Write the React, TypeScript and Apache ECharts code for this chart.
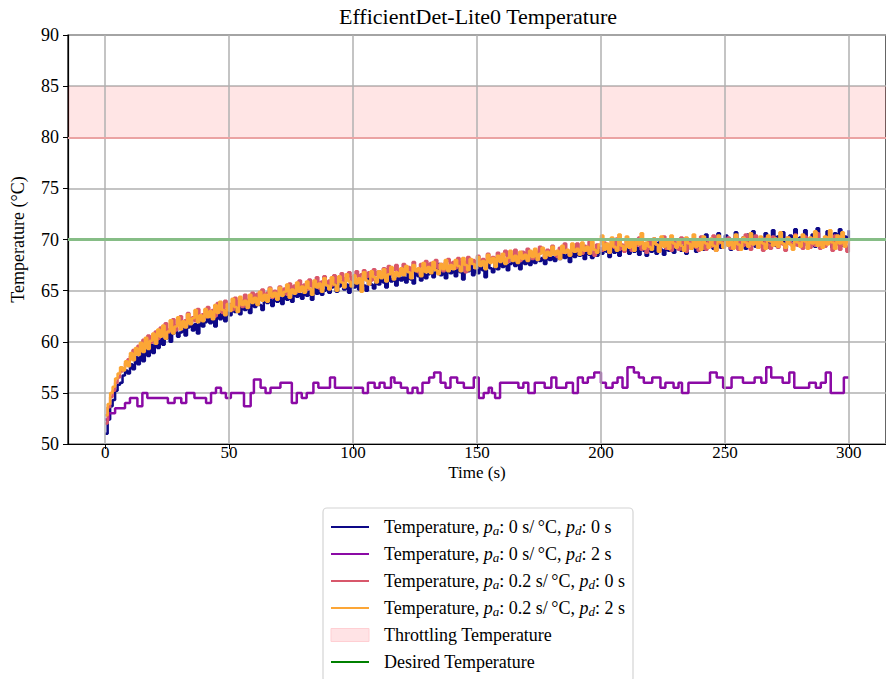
import React, { useEffect, useRef } from "react";
import * as echarts from "echarts";

// ---------- data ----------
const SAMPLE_STEP_S = 1; // sampling interval (s) of the three dense runs
const X_TICKS = [0, 50, 100, 150, 200, 250, 300];
const THROTTLE_LOW = 80;
const THROTTLE_HIGH = 85;
const DESIRED_TEMP = 70;

// pa: 0 s/°C, pd: 0 s  (one value per second, t = 0..300)
const TEMP_PA0_PD0 = [
  51.0, 52.4, 53.7, 54.3, 55.2, 55.8, 56.0, 56.7, 57.2, 56.9,
  57.8, 57.3, 58.5, 57.8, 58.9, 58.1, 59.3, 58.6, 59.7, 58.9,
  60.1, 59.4, 60.6, 59.7, 60.3, 61.0, 60.0, 60.8, 61.3, 60.5,
  60.9, 61.6, 60.6, 61.4, 62.0, 61.1, 61.7, 60.8, 62.2, 61.5,
  61.9, 62.6, 61.8, 62.3, 61.5, 62.8, 62.2, 62.9, 62.0, 63.2,
  62.6, 63.4, 62.9, 63.6, 62.7, 63.9, 63.1, 63.5, 62.8, 64.0,
  63.4, 64.2, 63.6, 63.1, 64.4, 63.8, 64.1, 63.5, 64.6, 63.9,
  64.3, 63.7, 64.8, 64.1, 64.5, 63.9, 65.0, 64.4, 64.7, 64.2,
  65.1, 64.5, 64.9, 64.1, 65.3, 64.7, 65.5, 64.6, 65.0, 65.6,
  64.8, 65.3, 65.7, 64.9, 65.4, 65.9, 65.1, 65.6, 64.8, 66.0,
  65.3, 65.8, 65.1, 66.1, 65.5, 65.0, 66.3, 65.6, 65.2, 66.0,
  65.6, 66.4, 65.8, 65.3, 66.6, 65.9, 66.2, 65.5, 66.7, 66.0,
  66.3, 65.8, 66.8, 66.1, 65.7, 66.9, 66.4, 66.0, 67.1, 66.2,
  66.6, 67.4, 66.3, 66.8, 67.6, 66.5, 67.0, 66.2, 67.2, 66.7,
  67.0, 66.4, 67.3, 66.8, 66.1, 67.4, 66.9, 67.6, 66.5, 67.1,
  66.7, 67.5, 67.0, 66.3, 67.7, 67.2, 66.8, 67.6, 67.1, 67.9,
  67.3, 67.9, 67.0, 67.6, 68.1, 67.4, 67.8, 67.1, 68.2, 67.6,
  68.0, 67.5, 68.3, 67.7, 68.4, 67.9, 68.2, 67.6, 68.5, 68.0,
  68.3, 67.9, 68.6, 68.1, 68.8, 68.2, 68.5, 67.8, 68.7, 68.3,
  68.9, 68.4, 68.7, 68.1, 69.0, 68.5, 68.2, 68.8, 68.4, 69.1,
  68.6, 69.2, 68.8, 68.3, 69.3, 68.7, 69.0, 68.4, 69.4, 68.9,
  69.1, 68.6, 69.5, 68.8, 69.2, 68.5, 69.6, 68.9, 68.4, 69.3,
  68.8, 69.4, 68.6, 69.7, 69.0, 68.5, 69.3, 68.9, 69.6, 68.7,
  69.2, 69.8, 68.9, 69.4, 68.6, 69.5, 69.1, 70.0, 68.8, 69.3,
  69.6, 69.0, 70.5, 69.3, 69.8, 69.1, 69.5, 70.6, 69.2, 69.7,
  70.4, 69.4, 69.0, 69.9, 70.7, 69.3, 69.6, 70.2, 69.1, 70.5,
  69.5, 70.8, 69.3, 69.8, 70.1, 69.4, 70.6, 69.2, 69.7, 70.9,
  69.4, 70.3, 69.8, 70.7, 69.2, 69.6, 70.4, 69.9, 71.0, 69.5,
  70.2, 69.7, 70.9, 69.4, 69.8, 70.5, 69.3, 71.1, 69.6, 70.0,
  69.5, 70.8, 69.9, 69.2, 70.6, 69.7, 71.0, 69.4, 70.3, 69.8,
  70.9,
];

// pa: 0 s/°C, pd: 2 s  — [time (s), temperature] at each level change
const TEMP_PA0_PD2_STEPS: [number, number][] = [
  [0, 52.4], [1.5, 53.0], [4, 53.5], [8, 54.0], [10, 54.5], [13, 53.7], [15, 55.0],
  [17, 54.5], [25.3, 54.0], [28, 54.5], [30.7, 54.0], [32.7, 55.0], [36, 54.5],
  [40.7, 54.0], [42.7, 55.0], [44.7, 55.5], [46.7, 55.0], [48.7, 54.5], [50.7, 55.0],
  [56, 53.7], [58.7, 55.0], [60, 56.3], [62.7, 55.5], [64.7, 55.0], [66.7, 55.5],
  [70.7, 56.0], [75.3, 54.0], [77.3, 55.0], [79.3, 54.5], [81.3, 55.0], [84, 56.0],
  [86, 55.5], [90.7, 56.5], [92.7, 55.5], [104, 55.0], [106, 56.0], [108.7, 55.5],
  [110.7, 56.0], [112.7, 55.5], [115.3, 56.5], [116.7, 56.0], [119.3, 55.5],
  [122, 55.0], [124, 55.5], [126, 55.0], [128, 56.0], [130.7, 56.5], [132.7, 57.0],
  [135.3, 56.0], [137.3, 55.5], [139.3, 56.5], [142, 56.0], [144.7, 55.5],
  [148.7, 56.5], [150.7, 54.5], [152.7, 55.0], [154.7, 55.5], [156, 55.0],
  [157.3, 54.5], [159.3, 56.0], [166.7, 55.5], [168.7, 56.0], [170.7, 55.0],
  [173.3, 56.0], [177.3, 55.5], [180, 56.5], [182, 55.5], [186, 56.0], [188.7, 55.0],
  [190.7, 56.5], [192.7, 56.0], [194.7, 56.5], [197.3, 57.0], [200, 56.0],
  [202, 55.5], [204.7, 56.0], [206.7, 56.5], [208.7, 55.5], [210.7, 57.5],
  [213.3, 57.0], [215.3, 56.5], [217.3, 56.0], [220.7, 56.5], [224, 55.5],
  [226, 56.0], [229.3, 55.5], [231.3, 56.0], [232.7, 55.0], [235.3, 56.0],
  [244, 57.0], [246.7, 56.5], [249.3, 55.5], [252.7, 56.5], [257.3, 56.0],
  [262, 56.5], [264.7, 56.0], [266.7, 57.5], [268.7, 56.5], [273.3, 56.0],
  [276, 57.0], [278, 55.5], [284, 56.0], [286.7, 55.5], [288.7, 56.0],
  [290.7, 57.0], [292.7, 55.0], [298, 56.5], [300, 56.5],
];

// pa: 0.2 s/°C, pd: 0 s
const TEMP_PA02_PD0 = [
  52.0, 53.6, 54.6, 55.2, 56.0, 56.5, 57.1, 57.4, 57.9, 58.3,
  58.6, 59.2, 58.8, 59.6, 59.1, 60.2, 59.5, 60.6, 59.9, 60.4,
  61.0, 60.3, 61.4, 60.7, 61.8, 60.9, 61.3, 62.2, 61.1, 61.7,
  62.5, 61.5, 62.1, 62.8, 61.8, 62.4, 62.0, 63.2, 62.3, 62.7,
  62.4, 63.4, 62.7, 63.1, 62.5, 63.8, 63.0, 62.8, 64.0, 63.3,
  63.7, 63.1, 64.3, 63.5, 64.1, 63.4, 64.6, 63.8, 64.2, 64.8,
  63.9, 64.7, 64.2, 65.1, 64.4, 64.8, 65.3, 64.3, 65.0, 64.6,
  65.4, 64.8, 65.2, 64.6, 65.7, 65.0, 65.5, 64.9, 66.0, 65.3,
  65.6, 65.1, 66.1, 65.4, 65.8, 66.3, 65.2, 65.9, 66.4, 65.6,
  66.0, 65.5, 66.5, 65.8, 66.2, 66.7, 65.7, 66.3, 66.8, 65.9,
  66.4, 66.9, 66.1, 66.6, 67.0, 66.3, 66.8, 66.0, 67.1, 66.5,
  66.9, 66.4, 67.2, 66.7, 67.4, 66.6, 67.0, 67.5, 66.8, 67.1,
  67.6, 66.9, 67.3, 66.7, 67.8, 67.1, 66.8, 67.6, 67.3, 67.9,
  67.0, 67.7, 67.3, 68.0, 67.2, 67.6, 66.9, 67.8, 68.1, 67.4,
  67.8, 67.2, 68.2, 67.5, 67.9, 66.8, 68.3, 67.6, 68.0, 67.4,
  68.4, 67.7, 68.1, 67.5, 68.6, 67.9, 68.3, 67.6, 68.7, 68.0,
  68.4, 68.9, 67.8, 68.6, 68.2, 69.0, 68.4, 67.9, 68.8, 68.3,
  69.1, 68.5, 68.1, 68.9, 68.4, 69.3, 68.7, 68.2, 69.0, 68.6,
  69.4, 68.8, 68.3, 69.2, 68.7, 69.6, 68.9, 68.5, 69.3, 68.8,
  69.6, 69.0, 68.6, 69.4, 68.9, 69.8, 69.1, 68.4, 69.5, 69.2,
  68.9, 69.7, 69.3, 68.7, 69.9, 69.2, 70.1, 69.0, 69.5, 68.8,
  70.0, 69.3, 68.9, 69.8, 69.4, 70.2, 69.0, 69.6, 68.7, 69.9,
  69.2, 70.1, 69.5, 68.8, 69.7, 70.3, 69.1, 69.5, 68.9, 70.0,
  69.4, 69.0, 70.2, 69.6, 68.8, 69.9, 69.3, 70.1, 69.2, 68.9,
  70.3, 69.5, 69.0, 69.8, 69.3, 70.4, 68.9, 69.6, 70.0, 69.2,
  69.7, 70.2, 69.1, 69.5, 70.3, 69.0, 69.8, 69.4, 70.5, 69.3,
  69.0, 69.9, 70.4, 69.2, 69.7, 68.9, 70.1, 69.5, 69.1, 70.3,
  69.6, 69.2, 70.0, 69.5, 68.9, 70.2, 69.7, 69.3, 70.5, 69.4,
  69.9, 69.1, 70.3, 69.6, 69.2, 70.0, 69.4, 70.6, 69.1, 69.8,
  69.3, 70.2, 69.6, 68.9, 70.4, 69.5, 69.0, 70.1, 69.4, 68.8,
  69.7,
];

// pa: 0.2 s/°C, pd: 2 s
const TEMP_PA02_PD2 = [
  52.8, 53.9, 55.0, 55.6, 56.4, 56.9, 57.5, 57.2, 58.1, 57.6,
  58.9, 58.2, 59.4, 58.7, 59.9, 59.0, 60.4, 59.3, 60.1, 60.8,
  59.8, 61.2, 60.5, 61.6, 60.3, 61.0, 62.1, 60.8, 61.5, 62.4,
  61.2, 62.0, 61.4, 62.7, 61.7, 62.3, 63.1, 61.9, 62.6, 62.0,
  63.2, 62.4, 63.0, 62.2, 63.6, 62.8, 63.9, 63.1, 62.6, 63.7,
  63.0, 64.2, 63.4, 62.9, 64.4, 63.6, 64.0, 63.3, 64.6, 63.8,
  64.3, 63.6, 64.9, 64.0, 64.6, 63.9, 65.2, 64.4, 64.8, 64.1,
  65.3, 64.5, 64.9, 65.6, 64.3, 65.1, 64.7, 65.8, 64.9, 65.4,
  64.8, 65.9, 65.2, 64.6, 66.0, 65.3, 65.7, 64.9, 66.2, 65.5,
  65.1, 66.3, 65.6, 65.0, 66.4, 65.8, 65.3, 66.6, 65.9, 65.4,
  66.5, 65.7, 66.2, 64.9, 66.8, 66.0, 65.6, 66.9, 66.3, 65.8,
  66.9, 66.2, 67.1, 65.9, 66.6, 67.3, 66.1, 66.8, 66.4, 67.2,
  66.5, 67.4, 66.8, 66.2, 67.5, 66.9, 67.2, 66.4, 67.7, 66.8,
  67.3, 66.7, 67.8, 67.0, 66.6, 67.6, 67.1, 68.0, 66.9, 67.5,
  67.1, 68.0, 67.4, 66.9, 68.2, 67.5, 67.0, 68.1, 67.6, 67.2,
  68.3, 67.4, 67.9, 67.1, 68.5, 67.7, 68.2, 67.3, 68.4, 67.8,
  68.6, 67.6, 68.2, 68.9, 67.9, 68.4, 67.7, 68.8, 68.1, 68.5,
  67.9, 68.9, 68.3, 69.1, 68.0, 68.6, 69.2, 68.2, 68.8, 68.4,
  69.3, 68.5, 68.9, 68.1, 69.4, 68.7, 69.0, 68.4, 69.6, 68.8,
  69.1, 68.5, 69.7, 68.9, 69.3, 68.6, 69.8, 69.0, 68.7, 69.5,
  70.4, 69.0, 69.6, 68.7, 70.2, 69.3, 68.9, 70.5, 69.4, 69.0,
  70.3, 69.2, 69.8, 68.9, 70.0, 69.5, 70.6, 69.1, 69.7, 69.3,
  69.0, 70.1, 69.5, 68.8, 70.3, 69.3, 69.9, 69.1, 70.4, 69.6,
  69.2, 70.0, 69.4, 68.9, 70.2, 69.6, 69.1, 70.5, 69.3, 69.8,
  69.0, 70.3, 69.6, 69.2, 70.1, 69.4, 68.9, 70.4, 69.7, 69.2,
  70.0, 69.4, 69.8, 69.1, 70.5, 69.5, 69.0, 70.2, 69.7, 69.3,
  70.6, 69.5, 69.9, 69.2, 70.3, 69.6, 69.1, 70.4, 69.8, 69.4,
  70.1, 69.3, 70.7, 69.6, 69.2, 70.2, 69.5, 69.0, 70.4, 69.7,
  69.3, 70.5, 69.8, 69.1, 70.2, 69.6, 70.8, 69.4, 69.9, 69.2,
  70.3, 69.5, 70.9, 69.7, 69.1, 70.4, 69.6, 70.7, 69.3, 70.0,
  69.6,
];

const NAME_1 = "Temperature, pa: 0 s/°C, pd: 0 s";
const NAME_2 = "Temperature, pa: 0 s/°C, pd: 2 s";
const NAME_3 = "Temperature, pa: 0.2 s/°C, pd: 0 s";
const NAME_4 = "Temperature, pa: 0.2 s/°C, pd: 2 s";
const NAME_THROTTLE = "Throttling Temperature";
const NAME_DESIRED = "Desired Temperature";

const LEGEND_RICH: Record<string, string> = {
  [NAME_1]: "Temperature, {i|p}{s|a}: 0 s/\u2009°C, {i|p}{s|d}: 0 s",
  [NAME_2]: "Temperature, {i|p}{s|a}: 0 s/\u2009°C, {i|p}{s|d}: 2 s",
  [NAME_3]: "Temperature, {i|p}{s|a}: 0.2 s/\u2009°C, {i|p}{s|d}: 0 s",
  [NAME_4]: "Temperature, {i|p}{s|a}: 0.2 s/\u2009°C, {i|p}{s|d}: 2 s",
  [NAME_THROTTLE]: NAME_THROTTLE,
  [NAME_DESIRED]: NAME_DESIRED,
};

const COLORS = {
  c1: "#0d0887",
  c2: "#8b0aa5",
  c3: "#d8576b",
  c4: "#fca636",
};

const SERIF = "'Liberation Serif', 'Times New Roman', serif";

const toPoints = (vals: number[]) => vals.map((v, i) => [i * SAMPLE_STEP_S, v]);

export default function App() {
  const ref = useRef<HTMLDivElement>(null);

  useEffect(() => {
    if (!ref.current) return;
    const chart = echarts.init(ref.current, null, { renderer: "svg" });

    const lineSeries = (name: string, color: string, data: any[]) => ({
      name,
      type: "line",
      step: "end",
      data,
      color,
      symbol: "none",
      showSymbol: false,
      lineStyle: { width: 2.5, color },
      z: 3,
    });

    const option: any = {
      animation: false,
      backgroundColor: "#ffffff",
      graphic: [
        {
          type: "text",
          x: 478,
          y: 5,
          style: {
            text: "EfficientDet-Lite0 Temperature",
            fontFamily: SERIF,
            fontSize: 22,
            fill: "#000",
            align: "center",
            verticalAlign: "top",
          },
        },
      ],
      grid: {
        left: 68,
        top: 35,
        width: 825,
        height: 409,
        show: true,
        borderColor: "#000",
        borderWidth: 1.2,
        backgroundColor: "transparent",
      },
      xAxis: {
        type: "value",
        min: -15,
        max: 315,
        name: "Time (s)",
        nameLocation: "middle",
        nameGap: 20,
        nameMoveOverlap: false,
        nameTextStyle: { fontFamily: SERIF, fontSize: 17, color: "#000" },
        axisLine: { show: true, onZero: false, lineStyle: { color: "#000", width: 1.2 } },
        axisTick: {
          show: true,
          customValues: X_TICKS,
          length: 5,
          lineStyle: { color: "#000", width: 1 },
        },
        axisLabel: {
          customValues: X_TICKS,
          fontFamily: SERIF,
          fontSize: 17,
          color: "#000",
          margin: 0,
        },
        splitLine: { show: false },
      },
      yAxis: {
        type: "value",
        min: 50,
        max: 90,
        interval: 5,
        name: "Temperature (°C)",
        nameLocation: "middle",
        nameGap: 41,
        nameMoveOverlap: false,
        nameRotate: 90,
        nameTextStyle: { fontFamily: SERIF, fontSize: 18, color: "#000" },
        axisLine: { show: true, onZero: false, lineStyle: { color: "#000", width: 1.2 } },
        axisTick: { show: true, length: 5, lineStyle: { color: "#000", width: 1 } },
        axisLabel: { fontFamily: SERIF, fontSize: 18, color: "#000", margin: 9 },
        splitLine: { show: true, lineStyle: { color: "#b0b0b0", width: 1.5 } },
      },
      legend: {
        orient: "vertical",
        left: 323,
        top: 508,
        height: 400,
        itemWidth: 38,
        itemHeight: 13,
        itemGap: 7,
        padding: [9, 8, 10, 7],
        borderColor: "#d4d4d4",
        borderWidth: 1.2,
        borderRadius: 4,
        backgroundColor: "#ffffff",
        itemStyle: { opacity: 0 },
        data: [
          { name: NAME_1 },
          { name: NAME_2 },
          { name: NAME_3 },
          { name: NAME_4 },
          {
            name: NAME_THROTTLE,
            icon: "rect",
            itemStyle: { color: "#ffe3e5", borderColor: "#ffcfd3", borderWidth: 1, opacity: 1 },
          },
          { name: NAME_DESIRED },
        ],
        formatter: (name: string) => LEGEND_RICH[name] ?? name,
        textStyle: {
          fontFamily: SERIF,
          fontSize: 18,
          color: "#000",
          lineHeight: 20,
          padding: [0, 0, 0, 10],
          rich: {
            i: { fontFamily: SERIF, fontSize: 18, fontStyle: "italic", lineHeight: 20, color: "#000" },
            s: {
              fontFamily: SERIF,
              fontSize: 13,
              fontStyle: "italic",
              lineHeight: 13,
              verticalAlign: "bottom",
              color: "#000",
            },
          },
        },
      },
      series: [
        {
          name: "__xgrid",
          type: "line",
          data: [],
          z: 1,
          markLine: {
            silent: true,
            symbol: "none",
            label: { show: false },
            lineStyle: { color: "#b0b0b0", width: 1.5, type: "solid" },
            data: X_TICKS.map((x) => ({ xAxis: x })),
          },
        },
        {
          name: NAME_THROTTLE,
          type: "line",
          data: [],
          color: "#ffe3e5",
          z: 2,
          markArea: {
            silent: true,
            itemStyle: { color: "rgba(255,0,0,0.1)" },
            data: [[{ yAxis: THROTTLE_LOW }, { yAxis: THROTTLE_HIGH }]],
          },
          markLine: {
            silent: true,
            symbol: "none",
            label: { show: false },
            lineStyle: { color: "#eba3a3", width: 2, type: "solid" },
            data: [{ yAxis: THROTTLE_LOW }],
          },
        },
        {
          name: NAME_DESIRED,
          type: "line",
          data: [],
          color: "#008000",
          lineStyle: { width: 2.5, color: "#008000" },
          symbol: "none",
          z: 2,
          markLine: {
            silent: true,
            symbol: "none",
            label: { show: false },
            lineStyle: { color: "#86bd86", width: 3, type: "solid" },
            data: [{ yAxis: DESIRED_TEMP }],
          },
        },
        lineSeries(NAME_1, COLORS.c1, toPoints(TEMP_PA0_PD0)),
        lineSeries(NAME_2, COLORS.c2, TEMP_PA0_PD2_STEPS),
        lineSeries(NAME_3, COLORS.c3, toPoints(TEMP_PA02_PD0)),
        lineSeries(NAME_4, COLORS.c4, toPoints(TEMP_PA02_PD2)),
      ],
    };

    chart.setOption(option);
    return () => chart.dispose();
  }, []);

  return (
    <div
      ref={ref}
      style={{ position: "absolute", left: 0, top: 0, width: 886, height: 679 }}
    />
  );
}
